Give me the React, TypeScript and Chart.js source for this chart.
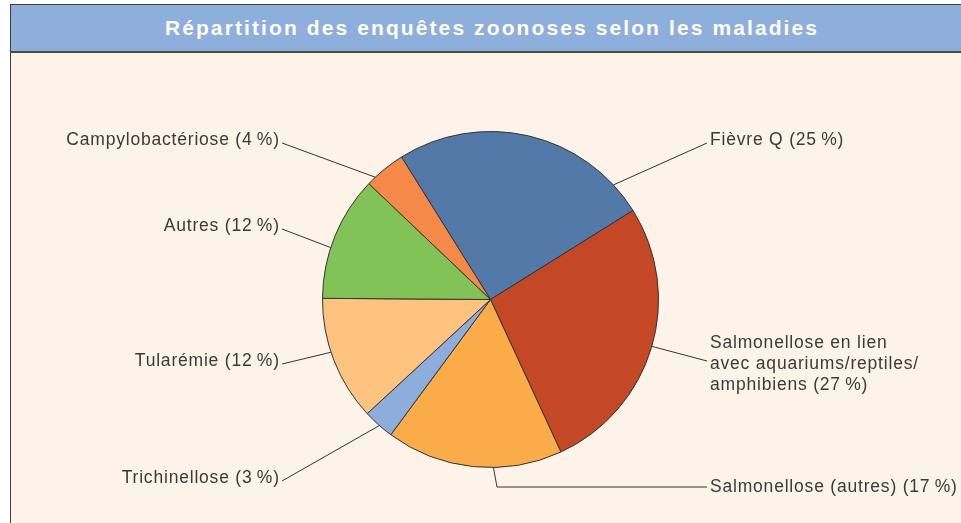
import React, { useEffect, useRef } from "react";
import { Chart, registerables } from "chart.js";

Chart.register(...registerables);

const TITLE = "Répartition des enquêtes zoonoses selon les maladies";
const categories = [
  ["Fièvre Q (25\u2009%)"],
  ["Salmonellose en lien", "avec aquariums/reptiles/", "amphibiens (27\u2009%)"],
  ["Salmonellose (autres) (17\u2009%)"],
  ["Trichinellose (3\u2009%)"],
  ["Tularémie (12\u2009%)"],
  ["Autres (12\u2009%)"],
  ["Campylobactériose (4\u2009%)"],
];
const values = [25, 27, 17, 3, 12, 12, 4];
const colors = ["#5279A8", "#C44726", "#FAAC48", "#8DADDD", "#FEC47F", "#82C357", "#F58A48"];

// leader-line layout: anchor angle on rim (deg, canvas), elbow point and label side
const anchorAngles = [-43, 16.2, 89, 131.4, 161.7, 198, 226.7];
const labelPos: { x: number; y: number; align: "left" | "right"; elbow?: [number, number] }[] = [
  { x: 710, y: 140, align: "left" },
  { x: 710, y: 343, align: "left" },
  { x: 710, y: 487, align: "left", elbow: [497, 487] },
  { x: 279, y: 478, align: "right" },
  { x: 279, y: 361, align: "right" },
  { x: 279, y: 226, align: "right" },
  { x: 279, y: 140, align: "right" },
];

const FONT = '17.5px "Liberation Sans", Arial, sans-serif';
const LINE_H = 21;

const labelsPlugin = {
  id: "leaderLabels",
  afterDraw(chart: any) {
    const ctx = chart.ctx;
    const arc = chart.getDatasetMeta(0).data[0];
    const cx = arc.x, cy = arc.y, r = arc.outerRadius;
    ctx.save();
    ctx.font = FONT;
    ctx.letterSpacing = "0.8px";
    ctx.fillStyle = "#3a3a3a";
    ctx.strokeStyle = "#333";
    ctx.lineWidth = 1;
    categories.forEach((lines, i) => {
      const p = labelPos[i];
      const a = (anchorAngles[i] * Math.PI) / 180;
      const ax = cx + Math.cos(a) * r;
      const ay = cy + Math.sin(a) * r;
      const lineY = lines.length > 1 ? p.y + 18 : p.y + 3;
      const endX = p.align === "left" ? p.x - 3 : p.x + 3;
      ctx.beginPath();
      ctx.moveTo(ax, ay);
      if (p.elbow) ctx.lineTo(p.elbow[0], p.elbow[1]);
      ctx.lineTo(endX, p.elbow ? p.elbow[1] : lineY);
      ctx.stroke();
      ctx.textAlign = p.align;
      ctx.textBaseline = "middle";
      const tx = p.align === "right" ? p.x + 0.8 : p.x;
      lines.forEach((t, k) => ctx.fillText(t, tx, p.y + k * LINE_H));
    });
    ctx.restore();
  },
};

export default function App() {
  const ref = useRef<HTMLCanvasElement>(null);
  useEffect(() => {
    const chart = new Chart(ref.current!, {
      type: "pie",
      data: {
        labels: categories.map((c) => c.join(" ")),
        datasets: [
          {
            data: values,
            backgroundColor: colors,
            borderColor: "#333",
            borderWidth: 1,
          },
        ],
      },
      options: {
        responsive: false,
        animation: false,
        rotation: -32,
        layout: { padding: { left: 322, right: 302, top: 131, bottom: 55 } },
        plugins: { legend: { display: false }, tooltip: { enabled: false } },
      },
      plugins: [labelsPlugin],
    });
    return () => chart.destroy();
  }, []);
  return (
    <div style={{ position: "absolute", left: 0, top: 0, width: 961, height: 523, overflow: "hidden" }}>
      <div
        style={{
          position: "absolute",
          left: 10,
          top: 4,
          width: 951,
          height: 519,
          background: "#FEF3E9",
          borderLeft: "1.5px solid #3c3c3c",
          borderTop: "1.5px solid #3c3c3c",
          boxSizing: "border-box",
        }}
      />
      <div
        style={{
          position: "absolute",
          left: 11,
          top: 5,
          width: 950,
          height: 48,
          background: "#8EAEDC",
          borderBottom: "2px solid #4a4a4a",
          boxSizing: "border-box",
          color: "#fff",
          font: 'bold 21px "Liberation Sans", Arial, sans-serif',
          letterSpacing: "2.1px",
          display: "flex",
          alignItems: "center",
          justifyContent: "center",
          paddingLeft: 12,
        }}
      >
        {TITLE}
      </div>
      <canvas ref={ref} width={961} height={523} style={{ position: "absolute", left: 0, top: 0 }} />
    </div>
  );
}
